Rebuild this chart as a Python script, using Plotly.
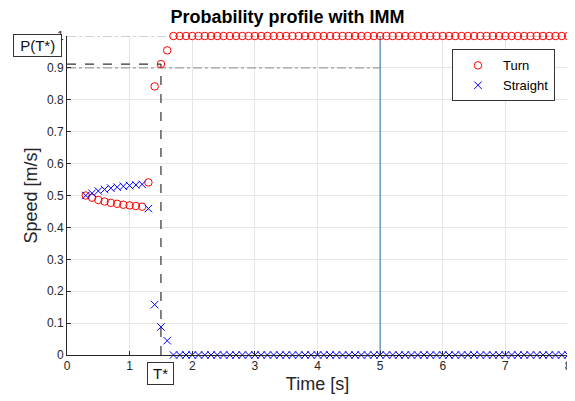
import plotly.graph_objects as go

time_s = [0.3, 0.4, 0.5, 0.6, 0.7, 0.8, 0.9, 1.0, 1.1, 1.2, 1.3, 1.4, 1.5, 1.6,
          1.7, 1.8, 1.9, 2.0, 2.1, 2.2, 2.3, 2.4, 2.5, 2.6, 2.7, 2.8, 2.9, 3.0,
          3.1, 3.2, 3.3, 3.4, 3.5, 3.6, 3.7, 3.8, 3.9, 4.0, 4.1, 4.2, 4.3, 4.4,
          4.5, 4.6, 4.7, 4.8, 4.9, 5.0, 5.1, 5.2, 5.3, 5.4, 5.5, 5.6, 5.7, 5.8,
          5.9, 6.0, 6.1, 6.2, 6.3, 6.4, 6.5, 6.6, 6.7, 6.8, 6.9, 7.0, 7.1, 7.2,
          7.3, 7.4, 7.5, 7.6, 7.7, 7.8, 7.9, 8.0]

turn = [0.500, 0.493, 0.486, 0.481, 0.477, 0.474, 0.471, 0.469, 0.467, 0.465,
        0.541, 0.842, 0.912, 0.955,
        1, 1, 1, 1, 1, 1, 1, 1, 1, 1, 1, 1, 1, 1, 1, 1, 1, 1, 1, 1, 1, 1,
        1, 1, 1, 1, 1, 1, 1, 1, 1, 1, 1, 1, 1, 1, 1, 1, 1, 1, 1, 1, 1, 1,
        1, 1, 1, 1, 1, 1, 1, 1, 1, 1, 1, 1, 1, 1, 1, 1, 1, 1, 1, 1]

straight = [0.500, 0.507, 0.514, 0.519, 0.523, 0.526, 0.529, 0.531, 0.533, 0.535,
            0.459, 0.158, 0.088, 0.045,
            0, 0, 0, 0, 0, 0, 0, 0, 0, 0, 0, 0, 0, 0, 0, 0, 0, 0, 0, 0, 0, 0,
            0, 0, 0, 0, 0, 0, 0, 0, 0, 0, 0, 0, 0, 0, 0, 0, 0, 0, 0, 0, 0, 0,
            0, 0, 0, 0, 0, 0, 0, 0, 0, 0, 0, 0, 0, 0, 0, 0, 0, 0, 0, 0]

t_star = 1.5
p_t_star = 0.912
p_threshold = 0.9
t_end = 5
x_ticks = [0, 1, 2, 3, 4, 5, 6, 7, 8]
y_ticks = [0, 0.1, 0.2, 0.3, 0.4, 0.5, 0.6, 0.7, 0.8, 0.9, 1]
y_tick_text = ["0", "0.1", "0.2", "0.3", "0.4", "0.5", "0.6", "0.7", "0.8", "0.9", "1"]

FONT = "Liberation Sans, Arial, sans-serif"
TXT = "#262626"

fig = go.Figure()

# reference lines
fig.add_trace(go.Scatter(x=[0, 8], y=[1, 1], mode="lines", showlegend=False, cliponaxis=False,
                         line=dict(color="#a0a0a0", width=1.2, dash="dashdot"), hoverinfo="skip"))
fig.add_trace(go.Scatter(x=[0, t_end], y=[p_threshold, p_threshold], mode="lines", showlegend=False,
                         line=dict(color="#a0a0a0", width=1.2, dash="dashdot"), hoverinfo="skip"))
fig.add_trace(go.Scatter(x=[t_end, t_end], y=[0, 1], mode="lines", showlegend=False,
                         line=dict(color="#4a86b8", width=1.2), hoverinfo="skip"))
fig.add_trace(go.Scatter(x=[0, t_star], y=[p_t_star, p_t_star], mode="lines", showlegend=False,
                         line=dict(color="#333333", width=1.2, dash="dash"), hoverinfo="skip"))
fig.add_trace(go.Scatter(x=[t_star, t_star], y=[0, p_t_star], mode="lines", showlegend=False,
                         line=dict(color="#333333", width=1.2, dash="dash"), hoverinfo="skip"))

fig.add_trace(go.Scatter(x=time_s, y=turn, mode="markers", name="Turn", cliponaxis=False,
                         marker=dict(symbol="circle-open", size=7.5, color="#ff0000", line=dict(width=1))))
fig.add_trace(go.Scatter(x=time_s, y=straight, mode="markers", name="Straight", cliponaxis=False,
                         marker=dict(symbol="x-thin-open", size=7.5, color="#0000ff", line=dict(width=1, color="#0000ff"))))

fig.add_annotation(x=0, y=0.97, xref="x", yref="y", xanchor="right", yanchor="middle",
                   text="&nbsp;P(T*)&nbsp;", showarrow=False, xshift=-5,
                   font=dict(family=FONT, size=15, color="#111111"),
                   bgcolor="white", bordercolor="#333333", borderwidth=1, borderpad=2)
fig.add_annotation(x=1.49, y=0, xref="x", yref="y", xanchor="center", yanchor="top",
                   text="&#8201;T*&#8201;", showarrow=False, yshift=-7,
                   font=dict(family=FONT, size=15, color="#111111"),
                   bgcolor="white", bordercolor="#333333", borderwidth=1, borderpad=2)

fig.update_layout(
    width=575, height=401,
    margin=dict(l=59, r=15, t=28, b=54, autoexpand=False),
    paper_bgcolor="white", plot_bgcolor="white",
    font=dict(family=FONT, size=12, color=TXT),
    title=dict(text="<b>Probability profile with IMM</b>", x=279.5 / 575, xanchor="center",
               y=1 - 9 / 401, yanchor="middle", yref="container",
               font=dict(family=FONT, size=18, color="#000000")),
    legend=dict(x=0.974, y=0.958, xanchor="right", yanchor="top",
                bgcolor="white", bordercolor="#333333", borderwidth=1,
                font=dict(family=FONT, size=13, color="#000000"),
                tracegroupgap=0, itemwidth=40),
    showlegend=True,
)
fig.update_xaxes(range=[0, 8.0001], tickvals=x_ticks, ticktext=[str(v) for v in x_ticks],
                 automargin=False,
                 showgrid=True, gridcolor="#e6e6e6", gridwidth=1, zeroline=False,
                 showline=True, linecolor=TXT, linewidth=1, ticks="inside", ticklen=4, tickcolor=TXT,
                 tickfont=dict(size=12, color=TXT),
                 title=dict(text="Time [s]", font=dict(size=18, color=TXT), standoff=4))
fig.update_yaxes(range=[0, 1], tickvals=y_ticks, ticktext=y_tick_text,
                 automargin=False,
                 showgrid=True, gridcolor="#e6e6e6", gridwidth=1, zeroline=False,
                 showline=True, linecolor=TXT, linewidth=1, ticks="inside", ticklen=4, tickcolor=TXT,
                 tickfont=dict(size=12, color=TXT),
                 title=dict(text="Speed [m/s]", font=dict(size=18, color=TXT), standoff=4))

fig.write_html("out.html")
